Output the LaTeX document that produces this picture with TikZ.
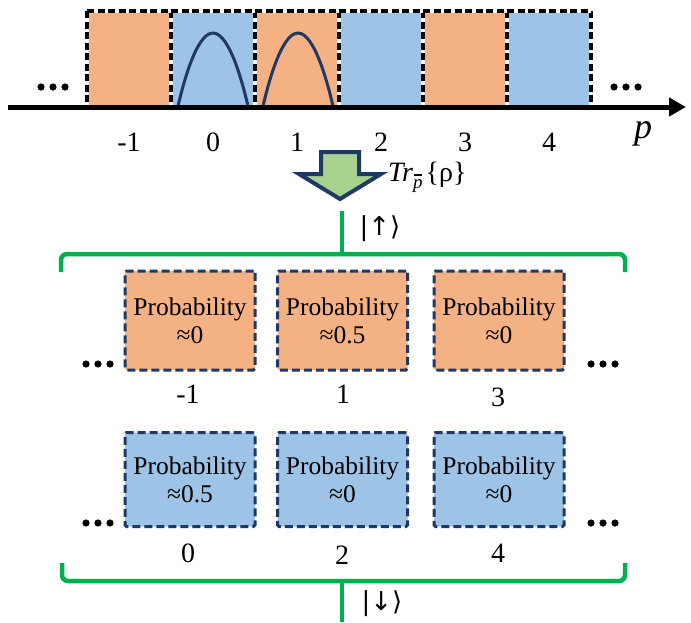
\documentclass[tikz,border=0pt]{standalone}
\usepackage{fontspec}
\setmainfont{Liberation Serif}
\newfontfamily\symf{DejaVu Sans}
\usetikzlibrary{arrows.meta}
\definecolor{orng}{HTML}{F4B183}
\definecolor{blu}{HTML}{9DC3E6}
\definecolor{navy}{HTML}{1F3864}
\definecolor{grnf}{HTML}{A9D18E}
\definecolor{grnl}{HTML}{00B050}
\newcommand{\threedots}[2]{%
  \fill (#1-12,#2) circle (3.6pt) (#1,#2) circle (3.6pt) (#1+12,#2) circle (3.6pt);}
\newcommand{\pbar}{{\itshape p}\llap{\rule[12.5pt]{8.5pt}{1.2pt}\hspace{0.5pt}}}
\begin{document}
\begin{tikzpicture}[x=1pt,y=-1pt,
  cell/.style={minimum width=84pt,minimum height=96pt,inner sep=0pt,outer sep=0pt,draw=none},
  axlab/.style={font=\fontsize{28}{30}\selectfont,inner sep=0pt},
  probbox/.style={draw=navy,line width=3pt,dash pattern=on 8pt off 4pt,rounded corners=1.5pt,
     minimum width=130pt,align=center,inner sep=0pt,font=\fontsize{25.5}{29}\selectfont},
  stripline/.style={line width=3.4pt,dash pattern=on 7pt off 3.5pt},
  brace/.style={draw=grnl,line width=4.5pt,rounded corners=6pt},
  hump/.style={draw=navy,line width=3pt},
  ket/.style={font=\fontsize{26}{28}\selectfont\symf,inner sep=0pt}
]
\useasboundingbox (0,0) rectangle (691,622);
% strip cells
\node[cell,fill=orng] (cm1) at (129,59) {};
\node[cell,fill=blu]  (c0)  at (213,59) {};
\node[cell,fill=orng] (c1)  at (297,59) {};
\node[cell,fill=blu]  (c2)  at (381,59) {};
\node[cell,fill=orng] (c3)  at (465,59) {};
\node[cell,fill=blu]  (c4)  at (549,59) {};
% humps
\draw[hump] (178,106) parabola bend (213,33) (248,106);
\draw[hump] (263,106) parabola bend (298,33) (333,106);
% dashed borders
\foreach \x in {87,171,255,339,423,507,591}{
  \draw[white,line width=3.4pt] (\x,11) -- (\x,107);
  \draw[black,stripline] (\x,11) -- (\x,107);
}
\draw[white,line width=3.4pt] (87,11) -- (591,11);
\draw[black,stripline] (87,11) -- (591,11);
% axis
\coordinate (axs) at (8,107);
\coordinate (axe) at (686,107);
\draw[line width=5pt,-{Triangle[length=17pt,width=18pt]}] (axs) -- (axe);
\threedots{53}{87}
\threedots{626}{87}
\foreach \n/\x/\t in {lm1/129/-1,l0/213/0,l1/297/1,l2/381/2,l3/465/3,l4/549/4}{
  \node[axlab] (\n) at (\x,142) {\t};
}
\node[font=\fontsize{36}{36}\selectfont\itshape,inner sep=0pt] (pl) at (643,134) {p};
% big arrow
\draw[navy,line width=4pt,fill=grnf,line join=miter]
  (321,152) -- (359,152) -- (359,174) -- (381,174) -- (340,199) -- (299,174) -- (321,174) -- cycle;
\node[anchor=west,inner sep=0pt,font=\fontsize{28}{30}\selectfont] (tr) at (388,177)
  {\textit{Tr}\raisebox{-7pt}{\fontsize{19}{19}\selectfont\pbar}\kern3pt\{ρ\}};
% top brace
\coordinate (tbl) at (61,272);
\coordinate (tbr) at (625,272);
\coordinate (tbs) at (342,211);
\draw[brace] (tbl) -- (61,254) -- (625,254) -- (tbr);
\draw[grnl,line width=4.5pt] (tbs) -- (342,254);
\node[ket] (up) at (380,229) {|↑⟩};
% top row of probability boxes
\node[probbox,fill=orng,minimum height=99pt] (u1) at (190,320.5) {Probability\\[-1pt]≈0};
\node[probbox,fill=orng,minimum height=99pt] (u2) at (342.5,320.5) {Probability\\[-1pt]≈0.5};
\node[probbox,fill=orng,minimum height=99pt] (u3) at (499,320.5) {Probability\\[-1pt]≈0};
\threedots{98}{364}
\threedots{603}{364}
\node[axlab] (ul1) at (188,394) {-1};
\node[axlab] (ul2) at (343,394) {1};
\node[axlab] (ul3) at (498,397) {3};
% bottom row
\node[probbox,fill=blu,minimum height=94pt] (d1) at (190,479.5) {Probability\\[-1pt]≈0.5};
\node[probbox,fill=blu,minimum height=94pt] (d2) at (342.5,479.5) {Probability\\[-1pt]≈0};
\node[probbox,fill=blu,minimum height=94pt] (d3) at (499,479.5) {Probability\\[-1pt]≈0};
\threedots{98}{523}
\threedots{603}{523}
\node[axlab] (dl1) at (188,553) {0};
\node[axlab] (dl2) at (342,555) {2};
\node[axlab] (dl3) at (498,553) {4};
% bottom brace
\coordinate (bbl) at (62,563);
\coordinate (bbr) at (625,563);
\coordinate (bbs) at (342,622);
\draw[brace] (bbl) -- (62,581) -- (625,581) -- (bbr);
\draw[grnl,line width=4.5pt] (342,581) -- (bbs);
\node[ket] (down) at (382,604) {|↓⟩};
\end{tikzpicture}
\end{document}
